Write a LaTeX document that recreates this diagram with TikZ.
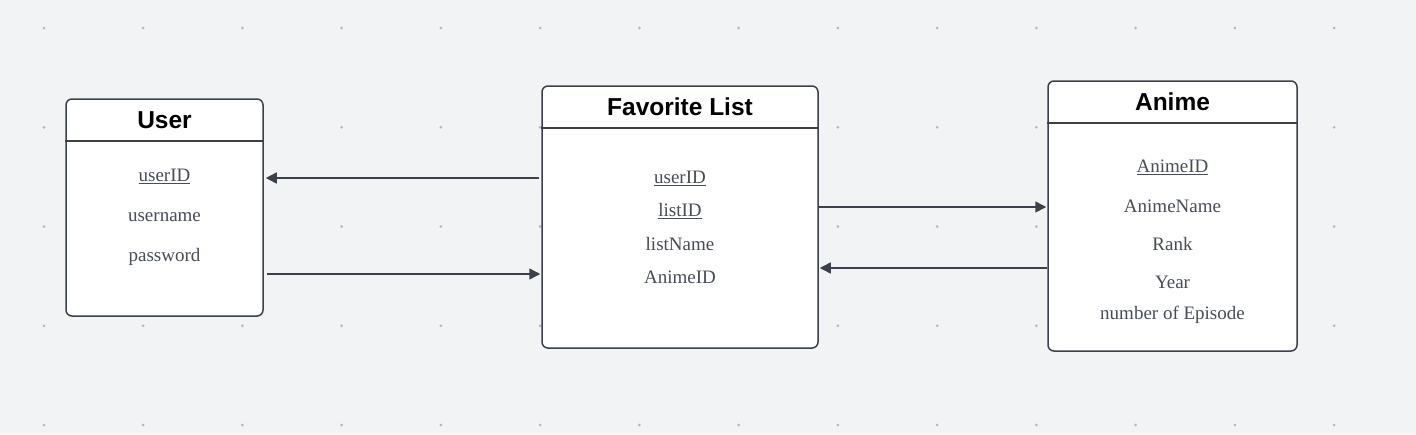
\documentclass[tikz,border=0pt]{standalone}
\usepackage{fontspec}
\setmainfont{Liberation Serif}
\setsansfont{Liberation Sans}
\usetikzlibrary{arrows.meta}

\definecolor{canvas}{HTML}{F2F3F5}
\definecolor{griddot}{HTML}{B4B7BD}
\definecolor{edge}{HTML}{3B404B}
\definecolor{fieldtext}{HTML}{474C58}

\begin{document}
\begin{tikzpicture}[x=1pt,y=-1pt,
    entity/.style={draw=edge, line width=1.5pt, fill=white, rounded corners=6pt, inner sep=0pt},
    divider/.style={draw=edge, line width=1.5pt},
    title/.style={font=\sffamily\bfseries\fontsize{24.5}{28}\selectfont, text=black},
    field/.style={font=\fontsize{19}{23}\selectfont, text=fieldtext},
    link/.style={draw=edge, line width=1.5pt, -{Triangle[length=11pt,width=11pt]}}]

    % canvas and dot grid
    \fill[canvas] (0,0) rectangle (1416,434);
    \foreach \i in {0,...,13}
      \foreach \j in {0,...,4}
        \fill[griddot] (44+99.23*\i, 28+99.25*\j) circle (1.5);

    % entities
    \node[entity, minimum width=197pt, minimum height=217pt] (user) at (164.5,207.5) {};
    \node[entity, minimum width=276pt, minimum height=262pt] (fav) at (680,217) {};
    \node[entity, minimum width=249pt, minimum height=270pt] (anime) at (1172.5,216) {};

    \draw[divider] (user.west |- 0,141) -- (user.east |- 0,141);
    \draw[divider] (fav.west |- 0,128) -- (fav.east |- 0,128);
    \draw[divider] (anime.west |- 0,123) -- (anime.east |- 0,123);

    \node[title] (userT) at (user.center |- 0,120) {User};
    \node[title] (favT) at (fav.center |- 0,107) {Favorite List};
    \node[title] (animeT) at (anime.center |- 0,102) {Anime};

    % User fields
    \node[field] (userA) at (user.center |- 0,176) {\underline{userID}};
    \node[field] (userB) at (user.center |- 0,217) {username};
    \node[field] (userC) at (user.center |- 0,257) {password};

    % Favorite List fields
    \node[field] (favA) at (fav.center |- 0,178) {\underline{userID}};
    \node[field] (favB) at (fav.center |- 0,211) {\underline{listID}};
    \node[field] (favC) at (fav.center |- 0,244) {listName};
    \node[field] (favD) at (fav.center |- 0,277) {AnimeID};

    % Anime fields
    \node[field] (animeA) at (anime.center |- 0,167) {\underline{AnimeID}};
    \node[field] (animeB) at (anime.center |- 0,206) {AnimeName};
    \node[field] (animeC) at (anime.center |- 0,244) {Rank};
    \node[field] (animeD) at (anime.center |- 0,282) {Year};
    \node[field] (animeE) at (anime.center |- 0,315) {number of Episode};

    % relations
    \draw[link, shorten <=2pt, shorten >=2pt] (fav.west |- 0,178) -- (user.east |- 0,178);
    \draw[link, shorten <=3pt, shorten >=1pt] (user.east |- 0,274) -- (fav.west |- 0,274);
    \draw[link, shorten >=1pt] (fav.east |- 0,207) -- (anime.west |- 0,207);
    \draw[link, shorten >=1pt] (anime.west |- 0,268) -- (fav.east |- 0,268);
\end{tikzpicture}
\end{document}
